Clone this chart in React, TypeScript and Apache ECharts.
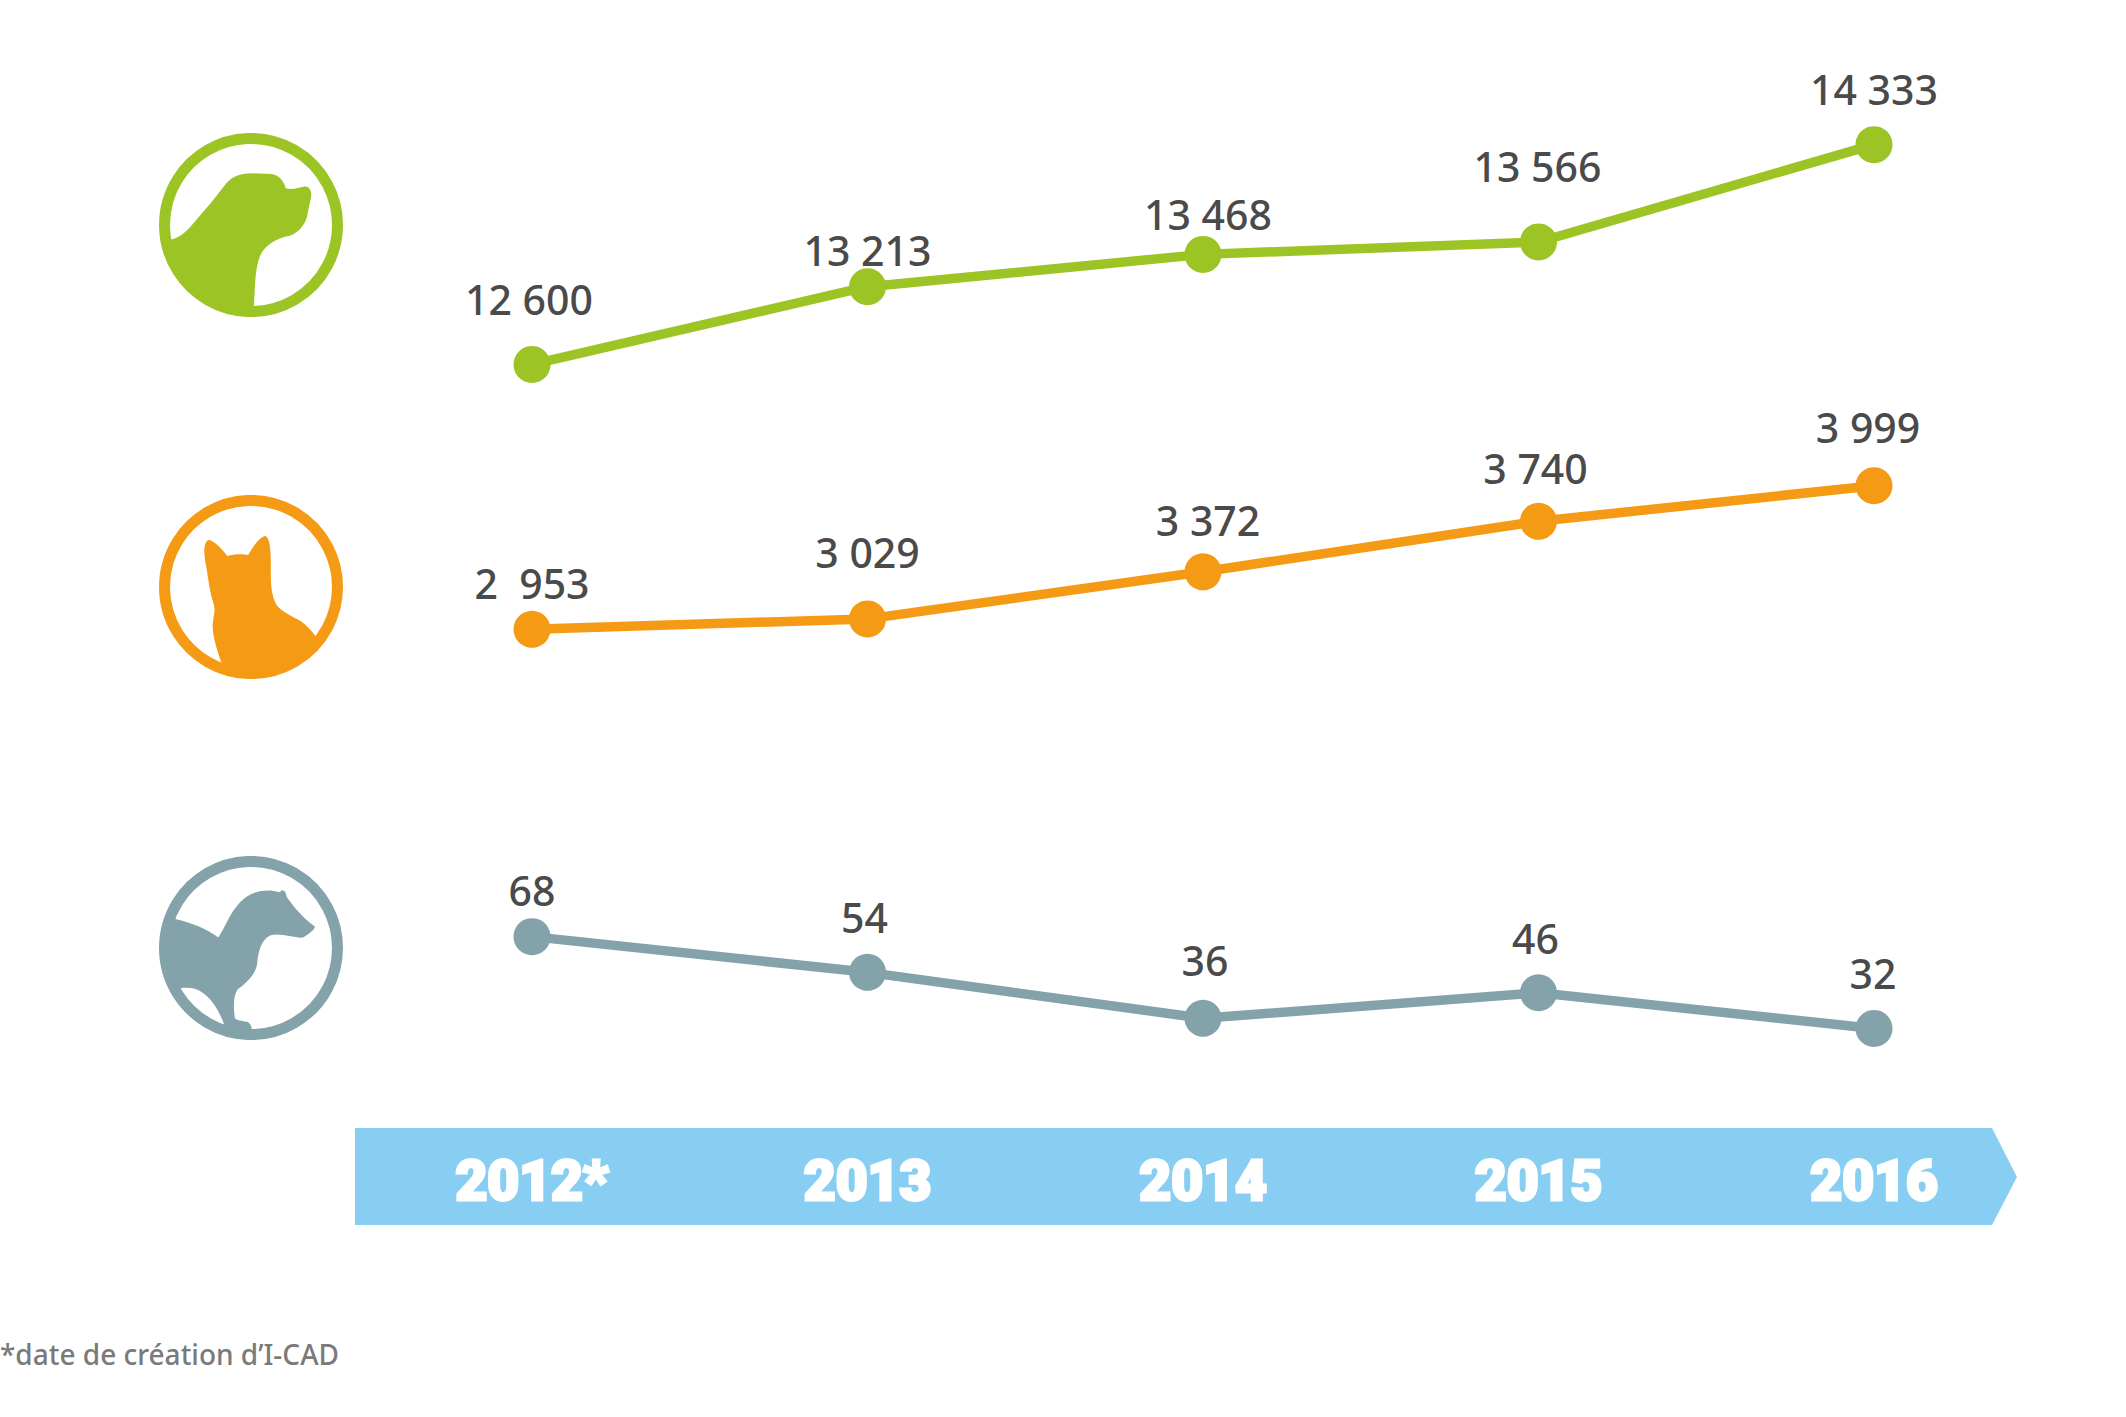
import React, { useEffect, useRef } from "react";
import * as echarts from "echarts";

const years = ["2012*", "2013", "2014", "2015", "2016"];
const dogs = [12600, 13213, 13468, 13566, 14333];
const cats = [2953, 3029, 3372, 3740, 3999];
const ferrets = [68, 54, 36, 46, 32];
const dogLabels = ["12 600", "13 213", "13 468", "13 566", "14 333"];
const catLabels = ["2  953", "3 029", "3 372", "3 740", "3 999"];
const ferretLabels = ["68", "54", "36", "46", "32"];
const footnote = "*date de création d\u2019I-CAD";

const GREEN = "#9BC424";
const ORANGE = "#F59A14";
const GREY = "#84A2AA";
const BLUE = "#88CEF3";

// Label placement relative to each point (layout only).
const dogShift = [[-3, -65], [0, -37], [5, -40], [-1, -76], [0, -56]];
const catShift = [[0, -46], [0, -67], [5, -52], [-3, -53], [-6, -59]];
const ferretShift = [[0, -47], [-3, -55], [2, -58], [-3, -55], [-1, -55]];

const DOG_ICON =
  "M120,390 C150,385 175,360 195,335 C225,300 255,265 285,225 C305,200 330,190 365,190 L425,192 C450,195 462,215 468,235 C485,240 505,235 525,230 C540,230 547,245 543,265 C540,280 535,300 532,320 C525,345 505,370 480,378 C440,385 405,405 390,440 C375,475 375,540 372,592 L372,604 A259,259 0 0 1 108,390 Z";
const CAT_ICON =
  "M275,550 C265,520 250,480 248,440 C248,415 258,395 252,375 C240,340 235,300 230,265 C222,230 218,190 235,180 C250,180 275,205 292,228 C310,222 340,222 355,225 C370,200 385,175 405,168 C420,170 423,210 423,250 C423,290 420,340 440,375 C455,395 490,410 515,425 C530,437 545,452 558,470 L578,470 A260,260 0 0 1 260,558 Z";
const FERRET_ICON =
  "M135,222 C180,232 230,250 265,278 C285,250 295,215 320,185 C350,145 385,135 425,137 L450,142 L455,136 C465,136 470,145 470,155 C490,185 520,220 555,245 C555,255 540,265 520,278 C490,280 450,262 420,272 C395,285 385,320 382,355 C378,385 355,410 325,432 C310,450 310,490 315,520 C325,530 345,527 355,532 C365,540 365,550 367,557 L367,568 A258,258 0 0 1 285,556 L283,540 C265,490 235,445 195,432 C180,428 165,428 150,430 L138,435 A258,258 0 0 1 125,205 Z";

echarts.graphic.registerShape("dogIcon", echarts.graphic.extendPath(DOG_ICON, {}));
echarts.graphic.registerShape("catIcon", echarts.graphic.extendPath(CAT_ICON, {}));
echarts.graphic.registerShape("ferretIcon", echarts.graphic.extendPath(FERRET_ICON, {}));

const LABEL_FONT = "'Noto Sans'";

function makeSeries(
  index: number,
  values: number[],
  labels: string[],
  shift: number[][],
  color: string
) {
  return {
    type: "line",
    xAxisIndex: index,
    yAxisIndex: index,
    data: values.map((value, i) => ({
      value,
      label: { offset: shift[i] },
    })),
    symbol: "circle",
    symbolSize: 37,
    showAllSymbol: true,
    lineStyle: { color, width: 9.5 },
    itemStyle: { color },
    label: {
      show: true,
      position: "inside",
      align: "center",
      verticalAlign: "middle",
      color: "#4A4A4A",
      fontFamily: LABEL_FONT,
      fontSize: 41,
      fontWeight: 500,
      formatter: (p: any) => labels[p.dataIndex],
    },
    emphasis: { disabled: true },
    silent: true,
  };
}

function ring(cy: number, color: string, shape: string, originY: number) {
  return [
    {
      type: "circle",
      z: -1,
      shape: { cx: 251, cy, r: 86.5 },
      style: { fill: "none", stroke: color, lineWidth: 11 },
    },
    {
      type: shape,
      z: -1,
      x: 130,
      y: originY,
      scaleX: 1 / 3,
      scaleY: 1 / 3,
      style: { fill: color },
    },
  ];
}

function xAxis(gridIndex: number, showLabels: boolean) {
  return {
    type: "category",
    gridIndex,
    data: years,
    axisLine: { show: false },
    axisTick: { show: false },
    axisLabel: showLabels
      ? {
          show: true,
          interval: 0,
          margin: 73,
          color: "#FFFFFF",
          fontFamily: "Roboto",
          fontWeight: 900,
          fontSize: 55,
          lineHeight: 55,
          textBorderColor: "#FFFFFF",
          textBorderWidth: 3,
        }
      : { show: false },
    splitLine: { show: false },
  };
}

function yAxis(gridIndex: number, min: number, max: number) {
  return { type: "value", gridIndex, min, max, show: false, splitLine: { show: false } };
}

export default function App() {
  const ref = useRef<HTMLDivElement>(null);
  useEffect(() => {
    document.body.style.margin = "0";
    const chart = echarts.init(ref.current!, undefined, { renderer: "svg" });
    chart.setOption({
      animation: false,
      backgroundColor: "#FFFFFF",
      grid: [
        { left: 364.25, width: 1677.5, top: 100, height: 300 },
        { left: 364.25, width: 1677.5, top: 440, height: 240 },
        { left: 364.25, width: 1677.5, top: 880, height: 200 },
      ],
      xAxis: [xAxis(0, false), xAxis(1, false), xAxis(2, true)],
      yAxis: [yAxis(0, 12320, 14685), yAxis(1, 2584, 4332), yAxis(2, 11.8, 90.2)],
      series: [
        makeSeries(0, dogs, dogLabels, dogShift, GREEN),
        makeSeries(1, cats, catLabels, catShift, ORANGE),
        makeSeries(2, ferrets, ferretLabels, ferretShift, GREY),
      ],
      graphic: {
        elements: [
          {
            type: "polygon",
            z: -2,
            shape: {
              points: [
                [355, 1128],
                [1992, 1128],
                [2017, 1177],
                [1992, 1225],
                [355, 1225],
              ],
            },
            style: { fill: BLUE },
          },
          ...ring(225, GREEN, "dogIcon", 110),
          ...ring(587, ORANGE, "catIcon", 480),
          ...ring(948, GREY, "ferretIcon", 845),
          {
            type: "text",
            x: 0,
            y: 1354,
            style: {
              text: footnote,
              fill: "#7A7A7A",
              fontFamily: LABEL_FONT,
              fontSize: 28,
              fontWeight: 500,
              verticalAlign: "middle",
              align: "left",
            },
          },
        ],
      },
    });
    return () => chart.dispose();
  }, []);
  return (
    <div
      ref={ref}
      style={{ position: "fixed", left: 0, top: 0, width: 2126, height: 1417 }}
    />
  );
}
